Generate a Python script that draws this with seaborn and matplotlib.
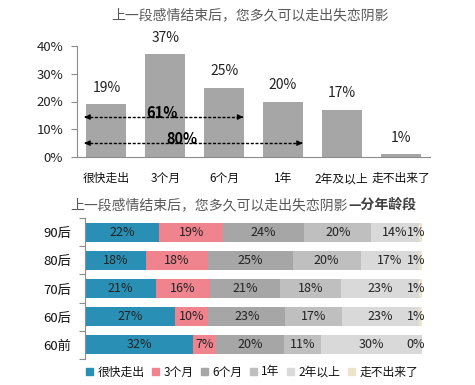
import matplotlib
matplotlib.use("Agg")
import matplotlib.pyplot as plt
import seaborn as sns
import numpy as np
import pandas as pd

sns.set_style("white")
plt.rcParams['font.family'] = ['Noto Sans CJK SC', 'DejaVu Sans']

# ---- data: top chart ----
top_title = "上一段感情结束后，您多久可以走出失恋阴影"
top_cats = ["很快走出", "3个月", "6个月", "1年", "2年及以上", "走不出来了"]
top_vals = [19, 37, 25, 20, 17, 1]
top_ticks = [0, 10, 20, 30, 40]
cum_labels = ["61%", "80%"]

# ---- data: bottom chart ----
bot_title_a = "上一段感情结束后，您多久可以走出失恋阴影"
bot_title_b = "—分年龄段"
ages = ["90后", "80后", "70后", "60后", "60前"]
series = ["很快走出", "3个月", "6个月", "1年", "2年以上", "走不出来了"]
s_quick = [22, 18, 21, 27, 32]
s_3m = [19, 18, 16, 10, 7]
s_6m = [24, 25, 21, 23, 20]
s_1y = [20, 20, 18, 17, 11]
s_2y = [14, 17, 23, 23, 30]
s_never = [1, 1, 1, 1, 0]
colors = ["#2A8FB4", "#F0848E", "#A6A6A6", "#BFBFBF", "#D9D9D9", "#ECE5CB"]

W, H = 475, 385
fig = plt.figure(figsize=(W / 100, H / 100), dpi=100)
fig.patch.set_facecolor("white")

# ================= top chart =================
ax1 = fig.add_axes([77 / W, 1 - 157 / H, (430 - 77) / W, (157 - 46) / H])
df_top = pd.DataFrame({"cat": top_cats, "val": top_vals})
sns.barplot(data=df_top, x="cat", y="val", order=top_cats, color="#A6A6A6",
            width=0.68, saturation=1, edgecolor="none", ax=ax1)
ax1.set_ylim(0, 40)
ax1.set_xlim(-0.5, len(top_cats) - 0.5)
ax1.set_yticks(top_ticks)
ax1.set_yticklabels([f"{t}%" for t in top_ticks], fontsize=9.5, color="#222222")
ax1.set_xlabel("")
ax1.set_ylabel("")
ax1.tick_params(axis="x", which="major", length=0, pad=11, labelsize=8.5, labelcolor="#111111")
ax1.set_xticks(np.arange(-0.5, len(top_cats)), minor=True)
ax1.tick_params(axis="x", which="minor", length=4, color="#8C8C8C", width=0.8, direction="out")
ax1.tick_params(axis="y", length=4, color="#8C8C8C", width=0.8, pad=6, left=True, direction="out")
for s in ["top", "right"]:
    ax1.spines[s].set_visible(False)
for s in ["left", "bottom"]:
    ax1.spines[s].set_color("#8C8C8C")
    ax1.spines[s].set_linewidth(0.8)
for i, v in enumerate(top_vals):
    ax1.annotate(f"{v}%", (i, v), xytext=(0, 7), textcoords="offset points",
                 ha="center", va="bottom", fontsize=10, color="#222222")

# cumulative arrows
arrow_specs = [(14.4, 2.37, cum_labels[0], 0.95, 15.8), (5.0, 3.38, cum_labels[1], 1.29, 6.4)]
for y, xr, lab, lx, ly in arrow_specs:
    ax1.plot([-0.36, xr - 0.08], [y, y], ls=(0, (2.2, 1.2)), color="black", lw=1.0)
    ax1.annotate("", xy=(-0.42, y), xytext=(-0.3, y),
                 arrowprops=dict(arrowstyle="-|>", color="black", lw=0.8, mutation_scale=8))
    ax1.annotate("", xy=(xr, y), xytext=(xr - 0.12, y),
                 arrowprops=dict(arrowstyle="-|>", color="black", lw=0.8, mutation_scale=8))
    ax1.text(lx, ly, lab, ha="center", va="center", fontsize=10.5, fontweight="bold", color="black")

fig.text(250 / W, 1 - 15 / H, top_title, ha="center", va="center", fontsize=10, color="#595959")

# ================= bottom chart =================
ax2 = fig.add_axes([85 / W, 1 - 359 / H, (422 - 85) / W, (359 - 218) / H])
vals = np.array([s_quick, s_3m, s_6m, s_1y, s_2y, s_never], dtype=float)
totals = vals.sum(axis=0)
pct = vals / totals * 100
cum = np.cumsum(pct, axis=0)
for k in range(len(series) - 1, -1, -1):
    d = pd.DataFrame({"age": ages, "cum": cum[k]})
    sns.barplot(data=d, y="age", x="cum", order=ages, orient="y", color=colors[k],
                width=0.67, saturation=1, edgecolor="none", ax=ax2)
if ax2.get_legend() is not None:
    ax2.get_legend().remove()
ax2.set_xlim(0, 100)
ax2.set_ylim(len(ages) - 0.5, -0.5)
ax2.set_xlabel("")
ax2.set_ylabel("")
ax2.set_xticks([])
ax2.tick_params(axis="y", which="major", length=0, pad=10, labelsize=9.5, labelcolor="#111111")
ax2.set_yticks(np.arange(-0.5, len(ages)), minor=True)
ax2.tick_params(axis="y", which="minor", length=4, color="#8C8C8C", width=0.8, left=True, direction="out")
for s in ["top", "right", "bottom"]:
    ax2.spines[s].set_visible(False)
ax2.spines["left"].set_color("#8C8C8C")
ax2.spines["left"].set_linewidth(0.8)

for k in range(len(series)):
    for i in range(len(ages)):
        start = cum[k][i] - pct[k][i]
        cx = start + pct[k][i] / 2
        if k == len(series) - 1:
            cx = 98.2
        ax2.text(cx, i, f"{int(vals[k][i])}%", ha="center", va="center",
                 fontsize=9, color="#222222")

handles = [plt.Rectangle((0, 0), 1, 1, color=c) for c in colors]
fig.legend(handles, series, loc="center", bbox_to_anchor=(252 / W, 1 - 372 / H),
           ncol=6, frameon=False, fontsize=8.5, handlelength=0.6, handleheight=0.6,
           handletextpad=0.4, columnspacing=0.6, labelcolor="#111111")

fig.text(348 / W, 1 - 205 / H, bot_title_a, ha="right", va="center", fontsize=10, color="#595959")
fig.text(348 / W, 1 - 205 / H, bot_title_b, ha="left", va="center", fontsize=10,
         color="#404040", fontweight="bold")

fig.savefig("out.png", dpi=100, facecolor="white")
